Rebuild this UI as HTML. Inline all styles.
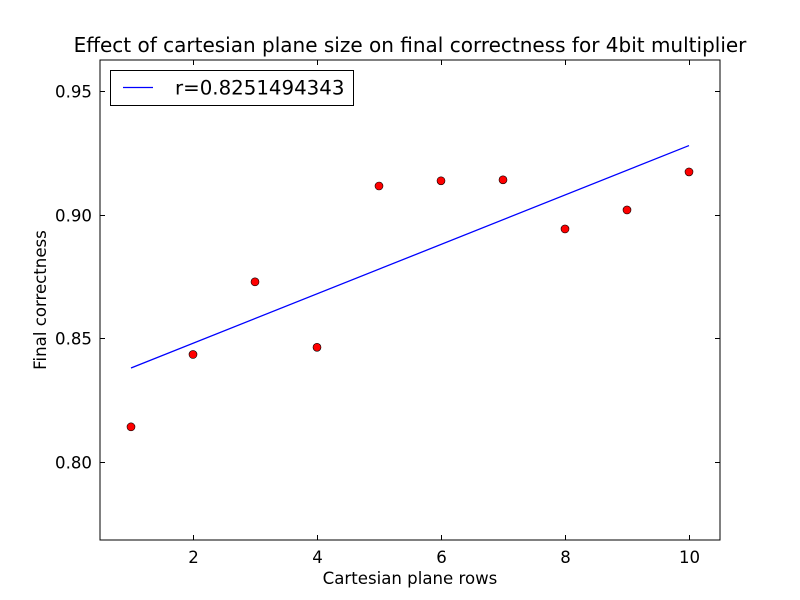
<!DOCTYPE html>
<html><head><meta charset="utf-8"><style>
body{margin:0;background:#fff}
svg{display:block;font-family:"DejaVu Sans","Liberation Sans",sans-serif}
</style></head><body>
<svg id="chart" width="800" height="600">
<rect width="800" height="600" fill="#fff"/>
<text x="410" y="52" font-size="20" text-anchor="middle">Effect of cartesian plane size on final correctness for 4bit multiplier</text>
<text x="410" y="584" font-size="16.6" text-anchor="middle">Cartesian plane rows</text>
<text x="46" y="300" font-size="16.6" text-anchor="middle" transform="rotate(-90 46 300)">Final correctness</text>
<g id="marks"></g>
<rect x="100" y="60" width="620" height="480" fill="none" stroke="#000" stroke-width="1"/>
<g>
<rect x="110.5" y="70.5" width="243" height="35" fill="#fff" stroke="#000"/>
<line x1="123" y1="87.5" x2="153" y2="87.5" stroke="#0000ff" stroke-width="1.3"/>
<text x="175" y="94.5" font-size="19.8">r=0.8251494343</text>
</g>
</svg>
<script>
const xValues=[1,2,3,4,5,6,7,8,9,10];
const yValues=[0.8142,0.8435,0.8729,0.8464,0.9117,0.9138,0.9142,0.8943,0.9020,0.9174];
const xTicks=[2,4,6,8,10];
const yTicks=[0.80,0.85,0.90,0.95];
const yTickLabels=["0.80","0.85","0.90","0.95"];
const X0=100,X1=720,Y0=540,Y1=60,xmin=0.5,xmax=10.5,ymin=0.7684,ymax=0.9627;
const sx=v=>X0+(v-xmin)/(xmax-xmin)*(X1-X0);
const sy=v=>Y0-(v-ymin)/(ymax-ymin)*(Y0-Y1);
const NS="http://www.w3.org/2000/svg";
const g=document.getElementById('marks');
function mk(t,a){const e=document.createElementNS(NS,t);for(const k in a)e.setAttribute(k,a[k]);g.appendChild(e);return e;}
xTicks.forEach(v=>{
 const x=Math.round(sx(v))+0.5;
 let e=mk('line',{x1:x,y1:540,x2:x,y2:535,stroke:'#000'});
 
 
 e=mk('line',{x1:x,y1:60,x2:x,y2:65,stroke:'#000'});
 
 
 e=mk('text',{x:x,y:563,'font-size':16.6,'text-anchor':'middle'});e.textContent=v;
 
 
});
yTicks.forEach((v,i)=>{
 const y=Math.round(sy(v))+0.5;
 let e=mk('line',{x1:100,y1:y,x2:105,y2:y,stroke:'#000'});
 
 
 e=mk('line',{x1:720,y1:y,x2:715,y2:y,stroke:'#000'});
 
 
 e=mk('text',{x:92,y:y+6,'font-size':16.6,'text-anchor':'end'});e.textContent=yTickLabels[i];
 
 
});
const n=xValues.length,mx=xValues.reduce((a,b)=>a+b)/n,my=yValues.reduce((a,b)=>a+b)/n;
let sxy=0,sxx=0;xValues.forEach((x,i)=>{sxy+=(x-mx)*(yValues[i]-my);sxx+=(x-mx)**2;});
const slope=sxy/sxx,icp=my-slope*mx;
const xa=xValues[0],xb=xValues[n-1];
let fl=mk('line',{x1:sx(xa),y1:sy(icp+slope*xa),x2:sx(xb),y2:sy(icp+slope*xb),stroke:'#0000ff','stroke-width':1.3});


xValues.forEach((x,i)=>{
 const c=mk('circle',{cx:sx(x),cy:sy(yValues[i]),r:4,fill:'#ff0000',stroke:'#000','stroke-width':0.6});
 
 
});
</script>
</body></html>
